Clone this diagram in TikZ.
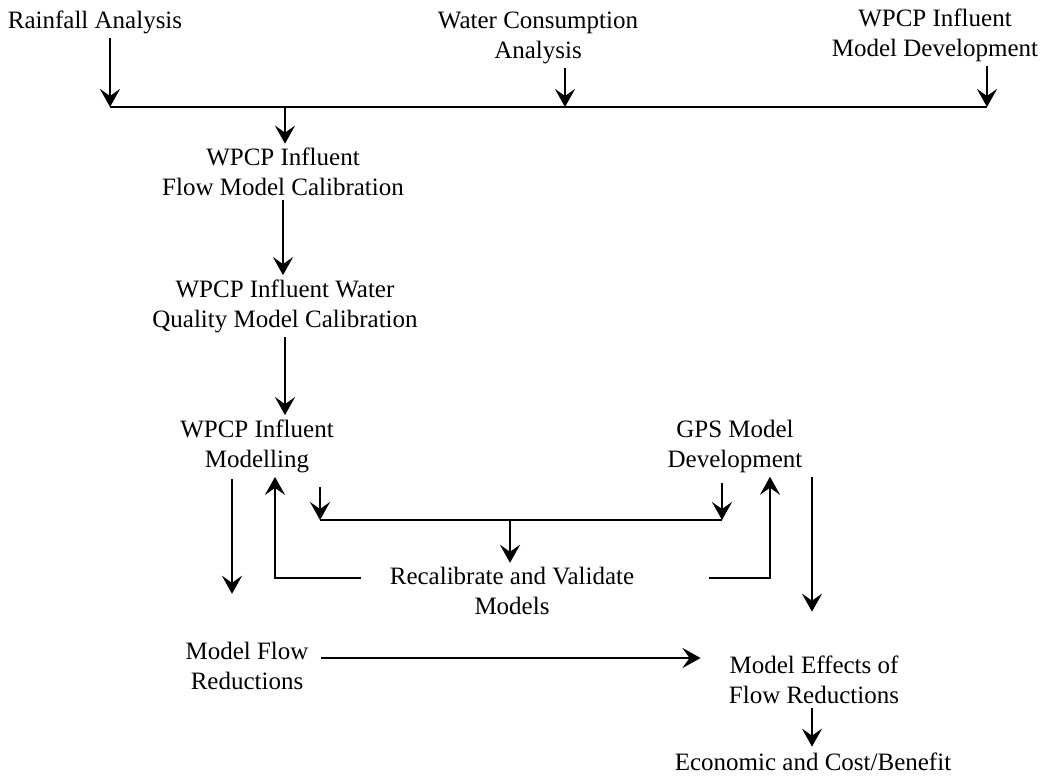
\documentclass[tikz,border=0pt]{standalone}
\usepackage{fontspec}
\setmainfont{Liberation Serif}
\usetikzlibrary{arrows.meta}

\begin{document}
\begin{tikzpicture}[x=0.5pt, y=-0.5pt, font=\fontsize{12.5}{15}\selectfont,
  lbl/.style={align=center, inner sep=2pt},
  link/.style={line width=1.4pt},
  arr/.style={link, -{Stealth[length=9pt, width=10pt, inset=3.5pt]}}]
\useasboundingbox (0,0) rectangle (1062,778);
% tasks
\node[lbl] (rain) at (95,22) {Rainfall Analysis};
\node[lbl] (water) at (538,38) {Water Consumption\\Analysis};
\node[lbl] (wpcpdev) at (935,35) {WPCP Influent\\Model Development};
\node[lbl] (flowcal) at (283,172) {WPCP Influent\\Flow Model Calibration};
\node[lbl] (qualcal) at (285,306) {WPCP Influent Water\\Quality Model Calibration};
\node[lbl] (modelling) at (257,446) {WPCP Influent\\Modelling};
\node[lbl] (gps) at (735,446) {GPS Model\\Development};
\node[lbl] (recal) at (512,591) {Recalibrate and Validate\\Models};
\node[lbl] (flowred) at (247,666) {Model Flow\\Reductions};
\node[lbl] (effects) at (814,680) {Model Effects of\\Flow Reductions};
\node[lbl] (econ) at (813,762) {Economic and Cost/Benefit};
% junction points
\coordinate (busL) at (110,107);
\coordinate (busW) at (565,107);
\coordinate (busR) at (987,107);
\coordinate (busF) at (285,107);
\coordinate (midL) at (320,520);
\coordinate (midC) at (510,520);
\coordinate (midR) at (722,520);
\coordinate (upL) at (275,578);
\coordinate (upR) at (770,578);
\coordinate (xL) at (232,0);
\coordinate (xR) at (812,0);
\coordinate (hy) at (0,658);
% top bus
\draw[arr] (rain.south -| busL) -- (busL);
\draw[arr] (water.south -| busW) -- (busW);
\draw[arr] (wpcpdev.south -| busR) -- (busR);
\draw[link] (busL) -- (busR);
\draw[arr] (busF) -- (flowcal.north -| busF);
\draw[arr] (flowcal.south) -- (flowcal.south |- qualcal.north);
\draw[arr] (qualcal.south) -- (qualcal.south |- modelling.north);
% recalibration loop
\draw[arr, shorten <=5pt] (modelling.south -| midL) -- (midL);
\draw[arr, shorten <=3pt] (gps.south -| midR) -- (midR);
\draw[link] (midL) -- (midR);
\draw[arr] (midC) -- (recal.north -| midC);
\draw[arr, shorten <=12pt] (upL -| recal.west) -- (upL) -- (upL |- modelling.south);
\draw[arr, shorten <=35pt] (upR -| recal.east) -- (upR) -- (upR |- gps.south);
% flow reductions
\draw[arr, shorten <=1pt, shorten >=22pt] (modelling.south -| xL) -- (flowred.north -| xL);
\draw[arr, shorten >=20pt] (gps.south -| xR) -- (effects.north -| xR);
\draw[arr, shorten <=4pt, shorten >=12pt] (flowred.east |- hy) -- (effects.west |- hy);
\draw[arr, shorten >=1pt] (effects.south -| xR) -- (econ.north -| xR);
\end{tikzpicture}
\end{document}
